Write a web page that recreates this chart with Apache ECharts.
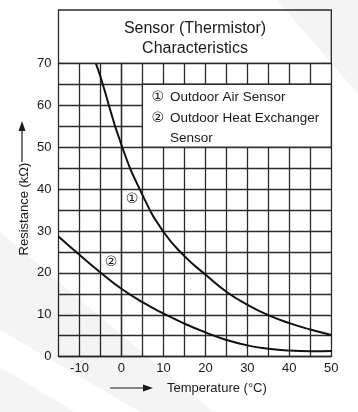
<!DOCTYPE html>
<html>
<head>
<meta charset="utf-8">
<script src="https://cdn.jsdelivr.net/npm/echarts@6/dist/echarts.min.js"></script>
<style>
html,body{margin:0;padding:0;background:#fff;}
#c{width:358px;height:412px;}
</style>
</head>
<body>
<div id="c"></div>
<script>
// ---- data ----
var titleText = 'Sensor (Thermistor)\nCharacteristics';
var xName = 'Temperature (°C)';
var yName = 'Resistance (kΩ)';
var legendLines = ['Outdoor Air Sensor', 'Outdoor Heat Exchanger', 'Sensor'];
var curveMarks = ['①', '②'];

var airTemps = [-6.1, -5, 0, 5, 10, 15, 20, 25, 30, 35, 40, 45, 50];
var airRes   = [70, 66.8, 50.5, 38.6, 29.8, 24.0, 19.6, 15.5, 12.4, 9.9, 8.0, 6.5, 5.2];

var hexTemps = [-15, -10, -5, 0, 5, 10, 15, 20, 25, 30, 35, 40, 45, 50];
var hexRes   = [28.7, 24.3, 20.1, 16.2, 13.0, 10.3, 7.9, 5.8, 4.0, 2.7, 1.9, 1.45, 1.3, 1.35];

var airMarkPos = [2.5, 37.6];
var hexMarkPos = [-2.5, 22.5];

var xMin = -15, xMax = 50, xStep = 5, xLabelEvery = 10;
var yMin = 0, yMax = 70, yStep = 5, yLabelEvery = 10;

// legend box spans these data ranges (gridlines hidden inside)
var legendBoxX = [5, 50];
var legendBoxY = [50, 65];

function zip(a, b) { return a.map(function (v, i) { return [v, b[i]]; }); }

var FONT = 'Liberation Sans, Arial, Helvetica, sans-serif';
var INK = '#1a1a1a';
var GRIDC = '#2a2a2a';

var chart = echarts.init(document.getElementById('c'), null, {renderer: 'canvas'});

var gridL = 58.5, gridR = 358 - 331.3, gridT = 63.3, gridB = 412 - 356.7;

chart.setOption({
  backgroundColor: '#ffffff',
  animation: false,
  title: {
    text: titleText,
    left: 195, top: 19, textAlign: 'center', padding: 0,
    textStyle: {fontFamily: FONT, fontSize: 16, fontWeight: 'normal', color: INK, lineHeight: 20}
  },
  grid: {left: gridL, right: gridR, top: gridT, bottom: gridB, containLabel: false},
  xAxis: {
    type: 'value', min: xMin, max: xMax, interval: xStep,
    axisLine: {show: true, lineStyle: {color: GRIDC, width: 1.3}},
    axisTick: {show: false},
    splitLine: {show: true, lineStyle: {color: GRIDC, width: 1.3}},
    axisLabel: {
      margin: 5, fontFamily: FONT, fontSize: 13, color: INK,
      formatter: function (v) { return v % xLabelEvery === 0 ? String(v) : ''; }
    }
  },
  yAxis: {
    type: 'value', min: yMin, max: yMax, interval: yStep,
    axisLine: {show: true, lineStyle: {color: GRIDC, width: 1.3}},
    axisTick: {show: false},
    splitLine: {show: true, lineStyle: {color: GRIDC, width: 1.3}},
    axisLabel: {
      margin: 7, fontFamily: FONT, fontSize: 13, color: INK,
      formatter: function (v) { return v % yLabelEvery === 0 ? String(v) : ''; }
    }
  },
  series: [
    {
      name: 'Outdoor Air Sensor', type: 'line', data: zip(airTemps, airRes),
      smooth: 0.5, showSymbol: false, symbol: 'none', clip: true, z: 10,
      lineStyle: {color: '#111', width: 2},
      markPoint: {
        symbol: 'circle', symbolSize: 0, silent: true,
        label: {show: true, position: 'inside', formatter: curveMarks[0], fontSize: 14, color: INK, fontFamily: 'DejaVu Sans, sans-serif'},
        data: [{coord: airMarkPos}]
      }
    },
    {
      name: 'Outdoor Heat Exchanger Sensor', type: 'line', data: zip(hexTemps, hexRes),
      smooth: 0.5, showSymbol: false, symbol: 'none', clip: true, z: 10,
      lineStyle: {color: '#111', width: 2},
      markPoint: {
        symbol: 'circle', symbolSize: 0, silent: true,
        label: {show: true, position: 'inside', formatter: curveMarks[1], fontSize: 14, color: INK, fontFamily: 'DejaVu Sans, sans-serif'},
        data: [{coord: hexMarkPos}]
      }
    }
  ]
});

var p0 = chart.convertToPixel({gridIndex: 0}, [legendBoxX[0], legendBoxY[1]]);
var p1 = chart.convertToPixel({gridIndex: 0}, [legendBoxX[1], legendBoxY[0]]);
var gTL = chart.convertToPixel({gridIndex: 0}, [xMin, yMax]);
var gBR = chart.convertToPixel({gridIndex: 0}, [xMax, yMin]);

chart.setOption({
  graphic: [
    // title frame
    {type: 'rect', z: 20, silent: true,
     shape: {x: gTL[0], y: 10, width: gBR[0] - gTL[0], height: gTL[1] - 10},
     style: {fill: 'none', stroke: GRIDC, lineWidth: 1.3}},
    // legend box (hides gridlines)
    {type: 'rect', z: 20, silent: true,
     shape: {x: p0[0], y: p0[1], width: p1[0] - p0[0], height: p1[1] - p0[1]},
     style: {fill: '#ffffff', stroke: GRIDC, lineWidth: 1.3}},
    {type: 'text', z: 21, silent: true, style: {text: curveMarks[0], x: p0[0] + 9, y: p0[1] + 13, verticalAlign: 'middle', font: '14px DejaVu Sans, sans-serif', fill: INK}},
    {type: 'text', z: 21, silent: true, style: {text: legendLines[0], x: p0[0] + 27.5, y: p0[1] + 13, verticalAlign: 'middle', font: '13.5px ' + FONT, fill: INK}},
    {type: 'text', z: 21, silent: true, style: {text: curveMarks[1], x: p0[0] + 9, y: p0[1] + 34, verticalAlign: 'middle', font: '14px DejaVu Sans, sans-serif', fill: INK}},
    {type: 'text', z: 21, silent: true, style: {text: legendLines[1], x: p0[0] + 27.5, y: p0[1] + 34, verticalAlign: 'middle', font: '13.5px ' + FONT, fill: INK}},
    {type: 'text', z: 21, silent: true, style: {text: legendLines[2], x: p0[0] + 27.5, y: p0[1] + 54.5, verticalAlign: 'middle', font: '13.5px ' + FONT, fill: INK}},
    // x-axis name with arrow
    {type: 'line', z: 20, silent: true, shape: {x1: 110, y1: 388, x2: 146, y2: 388}, style: {stroke: INK, lineWidth: 1.2}},
    {type: 'polygon', z: 20, silent: true, shape: {points: [[153, 388], [143, 384.5], [143, 391.5]]}, style: {fill: INK}},
    {type: 'text', z: 20, silent: true, style: {text: xName, x: 167, y: 388, verticalAlign: 'middle', font: '13px ' + FONT, fill: INK}},
    // y-axis name with arrow
    {type: 'line', z: 20, silent: true, shape: {x1: 22, y1: 162, x2: 22, y2: 128}, style: {stroke: INK, lineWidth: 1.2}},
    {type: 'polygon', z: 20, silent: true, shape: {points: [[22, 121], [18.5, 131], [25.5, 131]]}, style: {fill: INK}},
    {type: 'text', z: 20, silent: true, rotation: Math.PI / 2, x: 24, y: 209,
     style: {text: yName, x: 0, y: 0, align: 'center', verticalAlign: 'middle', font: '13px ' + FONT, fill: INK}},
    // faint diagonal watermark bands
    {type: 'polygon', z: 100, silent: true, shape: {points: [[277, 0], [358, 0], [358, 94]]}, style: {fill: 'rgba(0,0,0,0.045)'}},
    {type: 'polygon', z: 100, silent: true, shape: {points: [[0, 232], [213, 412], [140, 412], [0, 330]]}, style: {fill: 'rgba(0,0,0,0.045)'}},
    {type: 'polygon', z: 100, silent: true, shape: {points: [[0, 367], [75, 412], [0, 412]]}, style: {fill: 'rgba(0,0,0,0.045)'}}
  ]
});
</script>
</body>
</html>
